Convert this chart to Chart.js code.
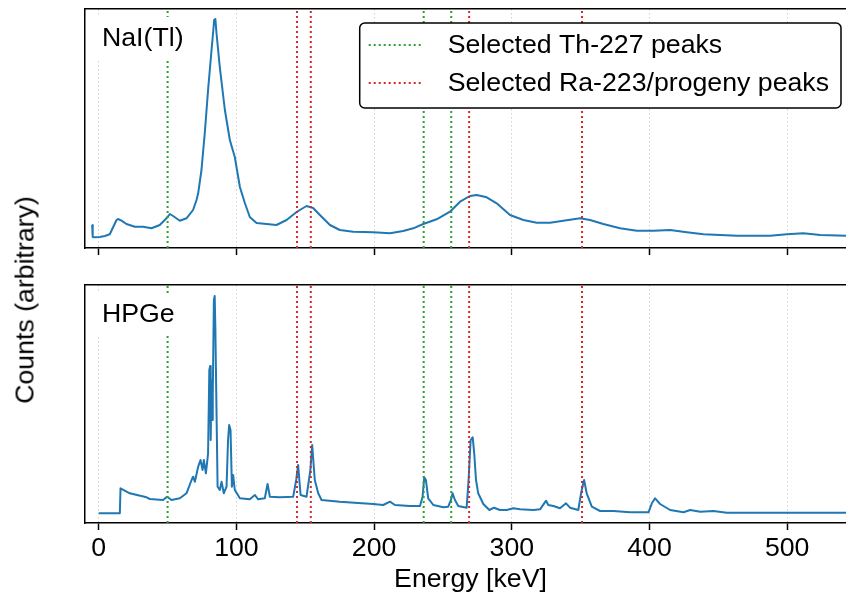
<!DOCTYPE html>
<html>
<head>
<meta charset="utf-8">
<script src="https://cdn.jsdelivr.net/npm/chart.js@4.4.1/dist/chart.umd.min.js"></script>
<style>
  html, body { margin: 0; padding: 0; background: #fff; overflow: hidden; }
  #wrap { position: relative; width: 846px; height: 600px; overflow: hidden; }
  #topPanel { position: absolute; left: 0; top: 0; }
  #bottomPanel { position: absolute; left: 0; top: 260px; }
  #ylabel {
    position: absolute; left: 25px; top: 300px;
    transform: translate(-50%, -50%) rotate(-90deg);
    font: 26.7px "Liberation Sans", Arial, sans-serif;
    white-space: nowrap; color: #000;
  }
</style>
</head>
<body>
<div id="wrap">
  <canvas id="topPanel" width="856" height="260"></canvas>
  <canvas id="bottomPanel" width="856" height="340"></canvas>
  <div id="ylabel">Counts (arbitrary)</div>
</div>
<script>
// NaI(Tl) spectrum (keV, arbitrary counts)
const naiEnergy = [-4.8, -4.4, -2.9, 0.7, 4.4, 8.0, 12.9, 14.0, 16.5, 20.1,
  26.2, 32.2, 38.3, 44.3, 49.2, 51.6, 54.0, 58.9, 63.7, 68.5,
  71.0, 72.2, 74.6, 77.0, 79.4, 81.9, 83.1, 83.8, 84.7, 85.5,
  87.9, 91.6, 95.2, 98.8, 102.5, 106.1, 109.7, 114.6, 121.9, 129.1,
  136.4, 143.7, 150.9, 155.7, 160.6, 167.9, 175.1, 184.8, 199.3, 211.5,
  221.1, 228.4, 235.7, 245.4, 255.1, 262.4, 269.6, 274.5, 281.8, 289.0,
  298.7, 308.4, 318.1, 327.8, 337.4, 349.6, 356.8, 366.5, 378.6, 390.8,
  402.8, 415.0, 427.1, 439.2, 463.5, 487.6, 499.8, 511.8, 524.0, 542.9, 550];
const naiCounts = [23, 11, 10.7, 11, 12, 13.7, 28, 29, 27.3, 24,
  21.3, 21.3, 19.7, 23, 29.7, 34, 32, 27.3, 29.7, 38,
  48, 54.7, 78, 115, 158, 198, 216, 228, 229, 215,
  181, 138, 108, 91, 61, 45, 31, 25, 24, 23,
  28, 36, 42, 40, 33, 23, 18, 16.3, 15.7, 14.7,
  17, 19.7, 24, 28.7, 36.3, 46.3, 52, 53, 50.7, 44.7,
  33, 28, 25.3, 25.3, 27.3, 29.7, 28, 24, 19.7, 17.3,
  17.3, 18, 15.7, 13.7, 12.3, 12.3, 13.7, 14.7, 13, 12.3, 12.3];

// HPGe spectrum
const hpgeEnergy = [0, 15.3, 15.8, 22.5, 34.7, 37.1, 46.7, 49.6, 52.8, 58.9,
  63.7, 67.4, 68.5, 69.8, 72.2, 73.9, 75.4, 76.3, 77.8, 79.4,
  80.3, 80.9, 81.3, 81.8, 82.4, 82.8, 83.6, 84.2, 84.7, 85.2,
  86.3, 87.9, 89.2, 90.8, 92.8, 93.9, 94.7, 95.7, 96.7, 97.6,
  98.8, 102.5, 109.7, 113.4, 115.8, 120.6, 122.6, 124.3, 131.5, 141.2,
  143.4, 144.8, 146.6, 150.9, 153.7, 155.0, 156.9, 159.4, 161.8, 175.1,
  199.3, 206.6, 211.5, 215.1, 226.0, 233.3, 235.2, 236.4, 237.6, 239.3,
  243.0, 250.2, 253.8, 255.8, 257.0, 258.7, 261.1, 267.2, 268.6, 270.1,
  271.6, 272.7, 274.0, 275.6, 279.3, 283.7, 287.1, 291.4, 296.3, 301.1,
  306.0, 315.6, 320.5, 324.9, 326.5, 330.2, 335.0, 339.4, 342.3, 348.3,
  350.3, 352.5, 354.4, 358.1, 364.1, 373.8, 385.9, 399.3, 401.7, 404.1,
  407.7, 415.0, 424.7, 429.6, 436.9, 446.5, 456.2, 550];
const hpgeCounts = [9.7, 9.7, 34.7, 29.7, 25.7, 24, 23, 26.3, 23, 24.7,
  29.7, 43, 46.3, 41.3, 56.3, 63, 53, 63, 49.7, 69.7,
  153, 157, 83, 143, 103, 128, 223, 227, 193, 143,
  36.3, 33, 41.3, 29.7, 36.3, 83, 98, 93, 36.3, 48,
  33, 24.7, 23.7, 28, 23.7, 24.7, 39, 26.3, 25.7, 26.3,
  43, 58, 28, 26.3, 53, 78, 43, 29.7, 23, 21.3,
  19, 18, 21.3, 18, 17, 17, 26.3, 45.7, 43, 24.7,
  18, 15.7, 16.3, 23, 29.7, 23, 17, 15.3, 43, 83,
  85.7, 69.7, 43, 29.7, 19, 13, 15.3, 13, 13, 14.7,
  13.7, 13, 13.7, 22.3, 18, 17, 14.7, 19.7, 15.3, 13,
  29.7, 43, 29.7, 16.3, 12, 12, 10.7, 10.7, 19.7, 24.7,
  19, 13, 10.7, 13, 11.3, 12, 10.3, 10.3];

// marked gamma lines (keV)
const th227Peaks = [50, 236, 256];
const raPeaks = [144, 154, 269, 351];

const xMin = -10, xMax = 550, xStep = 100;
const FONT = { family: '"Liberation Sans", Arial, sans-serif', size: 26.7 };
const FONT_CSS = '26.7px "Liberation Sans", Arial, sans-serif';
const BLUE = '#1f77b4', GREEN = '#2ca02c', RED = '#d62728';
const PEAK_DASH = [2, 3];

// white-boxed panel name and (optionally) the peak legend, drawn over the lines
const panelExtras = {
  id: 'panelExtras',
  afterDatasetsDraw(chart, args, opts) {
    const { ctx, chartArea: ca } = chart;
    ctx.save();
    ctx.font = FONT_CSS;
    ctx.textBaseline = 'middle';

    const tw = ctx.measureText(opts.label).width;
    ctx.fillStyle = '#fff';
    ctx.fillRect(ca.left + 8, ca.top + 8, tw + 26, 43);
    ctx.fillStyle = '#000';
    ctx.fillText(opts.label, ca.left + 17, ca.top + 30);

    if (opts.legend) {
      const items = [
        { text: 'Selected Th-227 peaks', color: GREEN },
        { text: 'Selected Ra-223/progeny peaks', color: RED }
      ];
      const maxW = Math.max(...items.map(it => ctx.measureText(it.text).width));
      const right = ca.right - 15, top = ca.top + 14, h = 85;
      const textX = right - 12 - maxW;
      const s2 = textX - 24, s1 = s2 - 55, left = s1 - 9;

      ctx.beginPath();
      ctx.roundRect(left, top, right - left, h, 5);
      ctx.fillStyle = '#fff';
      ctx.fill();
      ctx.lineWidth = 1.5;
      ctx.strokeStyle = '#000';
      ctx.stroke();

      items.forEach((it, i) => {
        const y = top + 22 + i * 38;
        ctx.beginPath();
        ctx.setLineDash(PEAK_DASH);
        ctx.lineWidth = 2;
        ctx.strokeStyle = it.color;
        ctx.moveTo(s1, y);
        ctx.lineTo(s2, y);
        ctx.stroke();
        ctx.setLineDash([]);
        ctx.fillStyle = '#000';
        ctx.fillText(it.text, textX, y + 1);
      });
    }
    ctx.restore();
  }
};

function peakLines(peaks, color, yMax) {
  return peaks.map(e => ({
    data: [{ x: e, y: 0 }, { x: e, y: yMax }],
    borderColor: color,
    borderWidth: 2,
    borderDash: PEAK_DASH,
    pointRadius: 0,
    order: 1
  }));
}

function makePanel(id, energy, counts, yMax, label, opts) {
  const spectrum = {
    data: energy.map((e, i) => ({ x: e, y: counts[i] })),
    borderColor: BLUE,
    borderWidth: 2,
    borderJoinStyle: 'round',
    pointRadius: 0,
    tension: 0,
    order: 2
  };
  return new Chart(document.getElementById(id), {
    type: 'line',
    data: {
      datasets: [spectrum,
        ...peakLines(th227Peaks, GREEN, yMax),
        ...peakLines(raPeaks, RED, yMax)]
    },
    options: {
      responsive: false,
      animation: false,
      devicePixelRatio: 1,
      events: [],
      layout: { padding: { left: 85, top: opts.padTop, right: 0, bottom: 0 } },
      plugins: {
        legend: { display: false },
        tooltip: { enabled: false },
        panelExtras: { label, legend: opts.legend }
      },
      scales: {
        x: {
          type: 'linear', min: xMin, max: xMax,
          ticks: { stepSize: xStep, includeBounds: false, display: opts.labels,
                   font: FONT, color: '#000', maxRotation: 0, padding: 3 },
          grid: { color: '#d0d0d0', lineWidth: 1, tickLength: 7,
                  tickColor: '#000', tickWidth: 1.5 },
          border: { display: true, color: '#000', width: 1.5, dash: [1.5, 2.5] },
          title: { display: opts.labels, text: 'Energy [keV]', font: FONT,
                   color: '#000', padding: { top: 4, bottom: 4 } },
          afterFit: s => { s.height = opts.axisH; }
        },
        xt: {
          type: 'linear', position: 'top', min: xMin, max: xMax,
          ticks: { display: false }, grid: { display: false },
          border: { display: true, color: '#000', width: 1.5 },
          afterFit: s => { s.height = 0; }
        },
        y: {
          min: 0, max: yMax,
          ticks: { display: false }, grid: { display: false },
          border: { display: true, color: '#000', width: 1.5 },
          afterFit: s => { s.width = 0; }
        }
      }
    },
    plugins: [panelExtras]
  });
}

makePanel('topPanel', naiEnergy, naiCounts, 239, 'NaI(Tl)',
  { padTop: 9, axisH: 12, labels: false, legend: true });
makePanel('bottomPanel', hpgeEnergy, hpgeCounts, 238, 'HPGe',
  { padTop: 25, axisH: 77, labels: true, legend: false });
</script>
</body>
</html>
